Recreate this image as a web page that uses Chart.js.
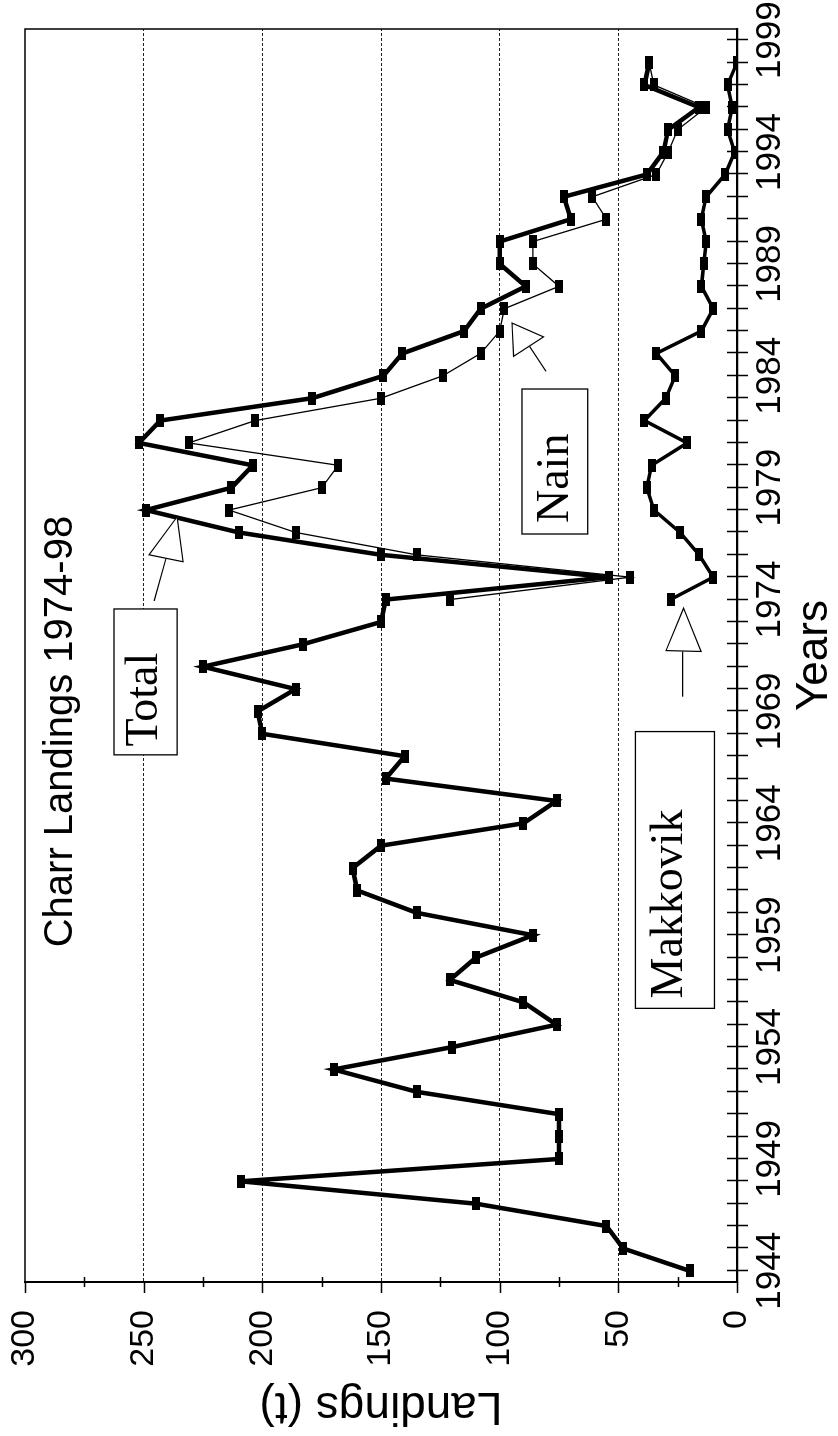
<!DOCTYPE html>
<html>
<head>
<meta charset="utf-8">
<title>Charr Landings 1974-98</title>
<script src="https://cdn.jsdelivr.net/npm/chart.js@4.4.0/dist/chart.umd.min.js"></script>
<style>
    html, body { margin: 0; padding: 0; background: #fff; }
    body { width: 838px; height: 1436px; overflow: hidden; position: relative; }
    /* the chart is drawn upright and then turned on its side, like the scan */
    #wrap {
        position: absolute; left: 0; top: 0;
        width: 1436px; height: 838px;
        transform-origin: 0 0;
        transform: translateY(1436px) rotate(-90deg);
    }
</style>
</head>
<body>
<div id="wrap"><canvas id="chart" width="1436" height="838"></canvas></div>
<script>
// Years of the total series
var totalYears = [1944, 1945, 1946, 1947, 1948, 1949, 1950, 1951, 1952, 1953,
    1954, 1955, 1956, 1957, 1958, 1959, 1960, 1961, 1962, 1963,
    1964, 1965, 1966, 1967, 1968, 1969, 1970, 1971, 1972, 1973,
    1974, 1975, 1976, 1977, 1978, 1979, 1980, 1981, 1982, 1983,
    1984, 1985, 1986, 1987, 1988, 1989, 1990, 1991, 1992, 1993,
    1994, 1995, 1996, 1997, 1998];
var totalLandings = [20, 48, 55, 110, 209, 75, 75, 75, 135, 170,
    120, 76, 90, 121, 110, 86, 135, 160, 162, 150,
    90, 76, 148, 140, 200, 202, 186, 225, 183, 150,
    148, 54, 150, 210, 249, 213, 204, 252, 243, 179,
    149, 141, 115, 108, 89, 100, 100, 70, 73, 38,
    31, 29, 16, 39, 37];

// Years of the two community series
var communityYears = [1974, 1975, 1976, 1977, 1978, 1979, 1980, 1981, 1982, 1983,
    1984, 1985, 1986, 1987, 1988, 1989, 1990, 1991, 1992, 1993,
    1994, 1995, 1996, 1997, 1998];
var nainLandings = [121, 45, 135, 186, 214, 175, 168, 231, 203, 150,
    124, 108, 100, 98, 75, 86, 86, 55, 61, 34,
    29, 25, 13, 35, 37];
var makkovikLandings = [28, 10, 16, 24, 35, 38, 36, 21, 39, 30,
    26, 34, 15, 10, 15, 14, 13, 15, 13, 5,
    1, 4, 2, 4, 0];

// Labelled year ticks
var yearTicks = [1944, 1949, 1954, 1959, 1964, 1969, 1974, 1979, 1984, 1989, 1994, 1999];

var SANS = '"Liberation Sans", Arial, sans-serif',
    SERIF = '"Liberation Serif", "Times New Roman", serif';

/**
 * Labels in boxes, the arrows that point at the lines, and the title.
 * Places are given in data units (year, tonnes).
 */
var labelBoxes = [
    {text: 'Total', from: 1967.06, to: 1973.58, top: 262.5, bottom: 235.9, textAt: 1967.43, baseline: 244.5},
    {text: 'Nain', from: 1976.93, to: 1983.41, top: 90.6, bottom: 62.9, textAt: 1977.42, baseline: 71.4},
    {text: 'Makkovik', from: 1955.73, to: 1968.10, top: 42.8, bottom: 9.5, textAt: 1956.17, baseline: 23.1}
];
var arrows = [
    {tip: [1977.70, 235.9], baseA: [1976.00, 247.7], baseB: [1975.69, 233.4], tailFrom: [1975.84, 240.6], tailTo: [1973.94, 245.6]},
    {tip: [1986.36, 94.8], baseA: [1984.87, 94.1], baseB: [1985.74, 81.5], tailFrom: [1985.32, 87.4], tailTo: [1984.20, 80.5]},
    {tip: [1973.62, 22.5], baseA: [1971.72, 29.9], baseB: [1971.68, 15.1], tailFrom: [1971.68, 22.9], tailTo: [1969.66, 22.9]}
];
var chartTitle = {text: 'Charr Landings 1974-98', at: 1968.10, baseline: 280.3};

/**
 * Small filled rectangle used as point marker.
 * @param  {number} w
 * @param  {number} h
 * @return {HTMLCanvasElement}
 */
function makeMarker(w, h) {
    var c = document.createElement('canvas');
    c.width = w;
    c.height = h;
    var g = c.getContext('2d');
    g.fillStyle = '#000';
    g.fillRect(0, 0, w, h);
    return c;
}

function toPoints(xs, ys) {
    return xs.map(function(x, i) {
        return {x: x, y: ys[i]};
    });
}

// Keep the plot box where the scan has it: no extra room for overhanging labels
function noOverhang(scale) {
    scale.paddingTop = 0;
    scale.paddingBottom = 0;
    scale.paddingLeft = 0;
    scale.paddingRight = 0;
}

var marker = makeMarker(13, 8);

var decorPlugin = {
    id: 'decor',
    beforeDatasetsDraw: function(chart) {
        var ctx = chart.ctx,
            area = chart.chartArea,
            sx = chart.scales.x,
            sy = chart.scales.y,
            i, p;

        ctx.save();
        ctx.strokeStyle = '#000';

        // Frame (top and right side)
        ctx.lineWidth = 1.5;
        ctx.beginPath();
        ctx.moveTo(area.left, area.top);
        ctx.lineTo(area.right, area.top);
        ctx.lineTo(area.right, area.bottom);
        ctx.stroke();

        // Year tick marks, every year, crossing the axis
        ctx.lineWidth = 1.5;
        ctx.beginPath();
        for (i = yearTicks[0]; i <= yearTicks[yearTicks.length - 1]; i++) {
            p = Math.round(sx.getPixelForValue(i)) + 0.5;
            ctx.moveTo(p, area.bottom - 10);
            ctx.lineTo(p, area.bottom + 11);
        }
        ctx.stroke();

        // Landings tick marks, major every 50, minor between
        ctx.beginPath();
        for (i = sy.min; i <= sy.max; i += 25) {
            p = Math.round(sy.getPixelForValue(i)) + 0.5;
            if (i % 50 === 0) {
                ctx.moveTo(area.left - 11, p);
                ctx.lineTo(area.left, p);
            } else {
                ctx.moveTo(area.left - 5, p);
                ctx.lineTo(area.left + 5, p);
            }
        }
        ctx.stroke();

        // Title inside the plot
        ctx.fillStyle = '#000';
        ctx.font = '40px ' + SANS;
        ctx.textAlign = 'center';
        ctx.textBaseline = 'alphabetic';
        ctx.fillText(chartTitle.text, sx.getPixelForValue(chartTitle.at), sy.getPixelForValue(chartTitle.baseline));

        // Label boxes
        labelBoxes.forEach(function(b) {
            var x0 = sx.getPixelForValue(b.from),
                x1 = sx.getPixelForValue(b.to),
                y0 = sy.getPixelForValue(b.top),
                y1 = sy.getPixelForValue(b.bottom);

            ctx.fillStyle = '#fff';
            ctx.fillRect(x0, y0, x1 - x0, y1 - y0);
            ctx.lineWidth = 1.3;
            ctx.strokeRect(x0, y0, x1 - x0, y1 - y0);

            ctx.fillStyle = '#000';
            ctx.font = '46px ' + SERIF;
            ctx.textAlign = 'left';
            ctx.fillText(b.text, sx.getPixelForValue(b.textAt), sy.getPixelForValue(b.baseline));
        });
        ctx.restore();
    },
    afterDatasetsDraw: function(chart) {
        var ctx = chart.ctx,
            sx = chart.scales.x,
            sy = chart.scales.y;

        function px(pt) {
            return [sx.getPixelForValue(pt[0]), sy.getPixelForValue(pt[1])];
        }

        ctx.save();
        ctx.strokeStyle = '#000';
        ctx.lineWidth = 1.2;
        arrows.forEach(function(a) {
            var tip = px(a.tip), ba = px(a.baseA), bb = px(a.baseB),
                t0 = px(a.tailFrom), t1 = px(a.tailTo);

            ctx.beginPath();
            ctx.moveTo(t0[0], t0[1]);
            ctx.lineTo(t1[0], t1[1]);
            ctx.stroke();

            ctx.beginPath();
            ctx.moveTo(tip[0], tip[1]);
            ctx.lineTo(ba[0], ba[1]);
            ctx.lineTo(bb[0], bb[1]);
            ctx.closePath();
            ctx.fillStyle = '#fff';
            ctx.fill();
            ctx.stroke();
        });
        ctx.restore();
    }
};

Chart.defaults.font.family = SANS;
Chart.defaults.color = '#000';

new Chart(document.getElementById('chart').getContext('2d'), {
    type: 'line',
    data: {
        datasets: [{
            label: 'Total',
            data: toPoints(totalYears, totalLandings),
            borderColor: '#000',
            borderWidth: 4.5,
            pointStyle: marker,
            pointRadius: 5,
            tension: 0,
            fill: false
        }, {
            label: 'Nain',
            data: toPoints(communityYears, nainLandings),
            borderColor: '#000',
            borderWidth: 1.3,
            pointStyle: marker,
            pointRadius: 5,
            tension: 0,
            fill: false
        }, {
            label: 'Makkovik',
            data: toPoints(communityYears, makkovikLandings),
            borderColor: '#000',
            borderWidth: 3.5,
            pointStyle: marker,
            pointRadius: 5,
            tension: 0,
            fill: false
        }]
    },
    options: {
        responsive: false,
        animation: false,
        devicePixelRatio: 1,
        layout: {padding: {top: 25, right: 29, left: 0, bottom: 0}},
        plugins: {
            legend: {display: false},
            tooltip: {enabled: false}
        },
        scales: {
            x: {
                type: 'linear',
                min: 1943.5,
                max: 1999.5,
                afterFit: function(scale) {
                    scale.height = 101;
                    noOverhang(scale);
                },
                afterBuildTicks: function(scale) {
                    scale.ticks = yearTicks.map(function(v) {
                        return {value: v};
                    });
                },
                grid: {display: false, drawTicks: false},
                border: {display: true, color: '#000', width: 2.2},
                ticks: {
                    autoSkip: false,
                    maxRotation: 0,
                    padding: 12,
                    font: {size: 35},
                    callback: function(v) {
                        return String(v);
                    }
                },
                title: {
                    display: true,
                    text: 'Years',
                    font: {size: 44, lineHeight: 1},
                    padding: {top: 0, bottom: 1.5}
                }
            },
            y: {
                min: 0,
                max: 300,
                afterFit: function(scale) {
                    scale.width = 154;
                    noOverhang(scale);
                },
                grid: {
                    drawTicks: false,
                    lineWidth: 1,
                    color: function(c) {
                        var v = c.tick && c.tick.value;
                        return (v === 0 || v === 300) ? 'rgba(0,0,0,0)' : '#222';
                    }
                },
                border: {display: true, color: '#000', width: 2, dash: [3, 2]},
                ticks: {
                    stepSize: 50,
                    padding: 28,
                    font: {size: 34}
                },
                title: {
                    display: true,
                    text: 'Landings (t)',
                    font: {size: 46, lineHeight: 1},
                    padding: {top: 7, bottom: 0}
                }
            }
        }
    },
    plugins: [decorPlugin]
});
</script>
</body>
</html>
